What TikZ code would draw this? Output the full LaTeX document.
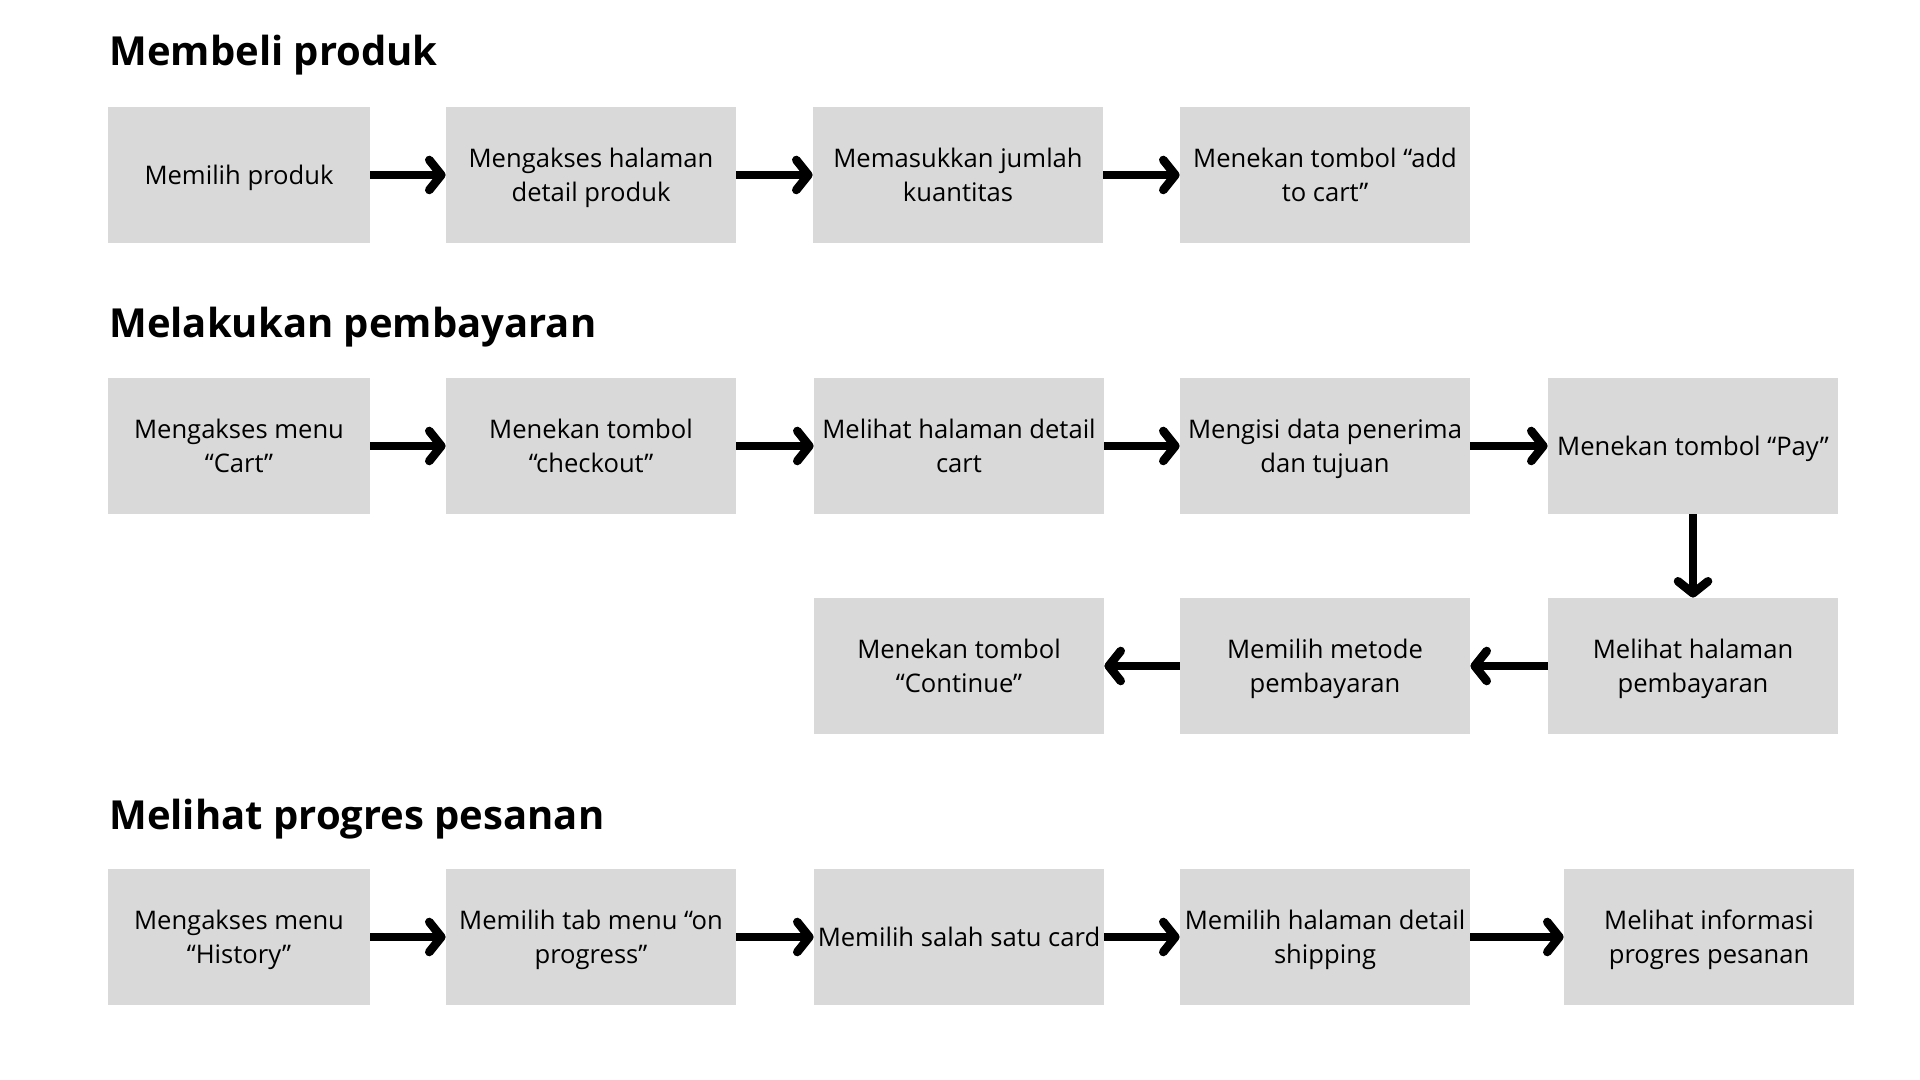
\documentclass[tikz,border=0pt]{standalone}
\usepackage{fontspec}
\setmainfont{Open Sans}
\usetikzlibrary{positioning,arrows.meta}
\definecolor{boxgray}{HTML}{D9D9D9}

\begin{document}
\begin{tikzpicture}[x=0.5pt,y=0.5pt,
    stepbox/.style={rectangle,fill=boxgray,minimum width=145pt,minimum height=68pt,
      inner sep=0pt,align=center,font=\fontsize{12.8}{17}\selectfont,
      text depth=0pt},
    firstbox/.style={stepbox,minimum width=131pt},
    heading/.style={anchor=base west,inner sep=0pt,font=\fontsize{20}{24}\selectfont\bfseries},
    flow/.style={line width=4.3pt,-{Straight Barb[length=6pt,width=15pt,round]}}]
  \useasboundingbox (0,0) rectangle (1920,1080);

  % Membeli produk
  \node[heading] (t1) at (109,1014) {Membeli produk};
  \node[firstbox] (a1) at (239,905) {Memilih produk};
  \node[stepbox] (a2) at (591,905) {Mengakses halaman\\detail produk};
  \node[stepbox] (a3) at (958,905) {Memasukkan jumlah\\kuantitas};
  \node[stepbox] (a4) at (1325,905) {Menekan tombol “add\\to cart”};
  \foreach \i/\j in {1/2,2/3,3/4}
    \draw[flow] (a\i) -- (a\j);

  % Melakukan pembayaran
  \node[heading] (t2) at (109,742) {Melakukan pembayaran};
  \node[firstbox] (b1) at (239,634) {Mengakses menu\\“Cart”};
  \node[stepbox] (b2) at (591,634) {Menekan tombol\\“checkout”};
  \node[stepbox] (b3) at (959,634) {Melihat halaman detail\\cart};
  \node[stepbox] (b4) at (1325,634) {Mengisi data penerima\\dan tujuan};
  \node[stepbox] (b5) at (1693,634) {Menekan tombol “Pay”};
  \node[stepbox] (c3) at (1693,414) {Melihat halaman\\pembayaran};
  \node[stepbox] (c2) at (1325,414) {Memilih metode\\pembayaran};
  \node[stepbox] (c1) at (959,414) {Menekan tombol\\“Continue”};
  \foreach \i/\j in {1/2,2/3,3/4,4/5}
    \draw[flow] (b\i) -- (b\j);
  \draw[flow] (b5) -- (c3);
  \draw[flow] (c3) -- (c2);
  \draw[flow] (c2) -- (c1);

  % Melihat progres pesanan
  \node[heading] (t3) at (109,250) {Melihat progres pesanan};
  \node[firstbox] (d1) at (239,143) {Mengakses menu\\“History”};
  \node[stepbox] (d2) at (591,143) {Memilih tab menu “on\\progress”};
  \node[stepbox] (d3) at (959,143) {Memilih salah satu card};
  \node[stepbox] (d4) at (1325,143) {Memilih halaman detail\\shipping};
  \node[stepbox] (d5) at (1709,143) {Melihat informasi\\progres pesanan};
  \foreach \i/\j in {1/2,2/3,3/4,4/5}
    \draw[flow] (d\i) -- (d\j);
\end{tikzpicture}
\end{document}
